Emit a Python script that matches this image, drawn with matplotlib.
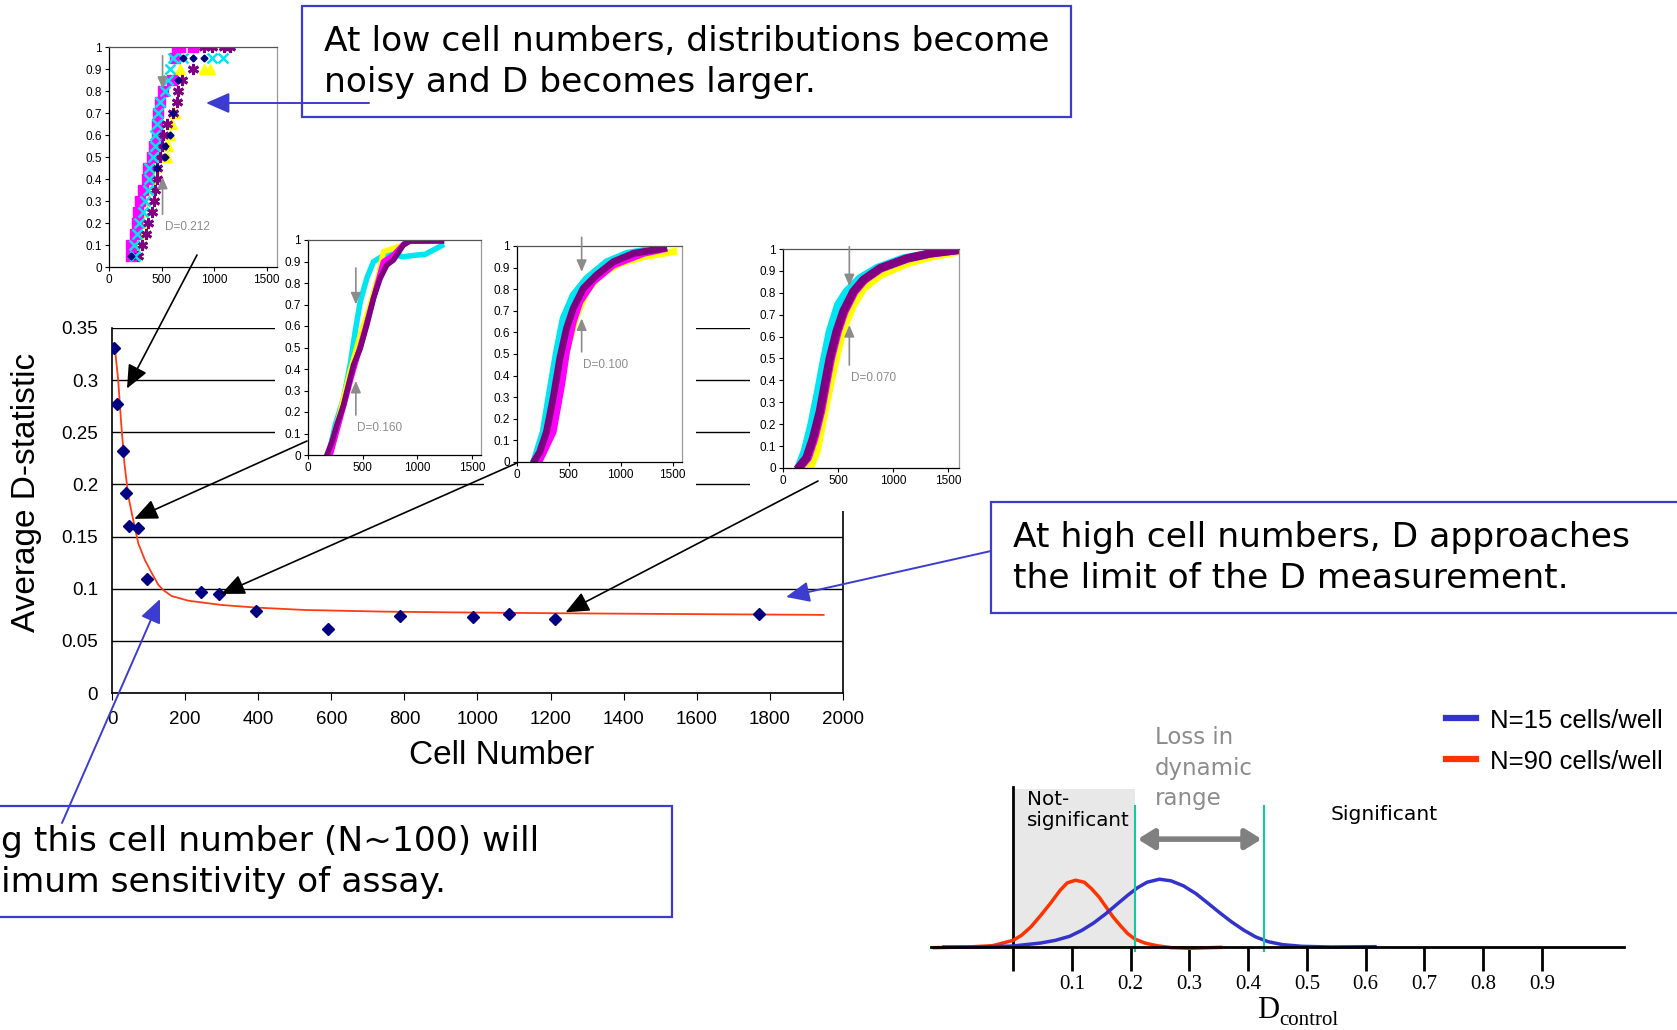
import numpy as np
import matplotlib
matplotlib.use("Agg")
import matplotlib.pyplot as plt
from matplotlib.patches import Rectangle
from matplotlib.lines import Line2D
from matplotlib.text import Annotation

W, H = 1677, 1030

# main chart: average D-statistic vs cell number
cell_number = [6, 15, 29, 38, 47, 71, 97, 243, 293, 393, 591, 788, 987, 1086, 1213, 1769]
avg_d = [0.331, 0.277, 0.232, 0.192, 0.160, 0.158, 0.109, 0.097, 0.095, 0.079,
         0.061, 0.074, 0.073, 0.0755, 0.071, 0.0755]
fit_x = [8, 17, 25, 34, 45, 58, 72, 90, 109, 127, 140, 163, 209, 300, 390, 528,
         750, 907, 1210, 1514, 1947]
fit_y = [0.330, 0.300, 0.259, 0.220, 0.188, 0.166, 0.1435, 0.1275, 0.1148, 0.1036,
         0.0988, 0.093, 0.0885, 0.0844, 0.082, 0.0796, 0.078, 0.0774, 0.0765, 0.0758,
         0.0749]
x_ticks = [0, 200, 400, 600, 800, 1000, 1200, 1400, 1600, 1800, 2000]
y_ticks = [0, 0.05, 0.1, 0.15, 0.2, 0.25, 0.3, 0.35]
y_labels = ["0", "0.05", "0.1", "0.15", "0.2", "0.25", "0.3", "0.35"]

# inset 1 (low cell number, separate markers)
i1_magenta_x = [214, 214, 246, 268, 278, 294, 325, 364, 373, 405, 428, 453, 460, 469,
                485, 517, 597, 629, 645, 676, 804]
i1_magenta_y = [0.05, 0.1, 0.15, 0.2, 0.25, 0.3, 0.35, 0.4, 0.45, 0.5, 0.55, 0.6, 0.65,
                0.7, 0.75, 0.8, 0.85, 0.95, 1.0, 1.0, 1.0]
i1_cyan_x = [246, 236, 268, 284, 325, 341, 373, 383, 383, 421, 437, 437, 453, 469, 485,
             533, 565, 581, 613, 708, 980, 1085]
i1_cyan_y = [0.05, 0.1, 0.15, 0.2, 0.25, 0.3, 0.35, 0.4, 0.45, 0.5, 0.55, 0.6, 0.65, 0.7,
             0.75, 0.8, 0.85, 0.9, 0.95, 0.95, 0.95, 0.95]
i1_yellow_x = [246, 294, 310, 319, 325, 364, 405, 437, 549, 565, 581, 597, 629, 676, 900, 964]
i1_yellow_y = [0.1, 0.15, 0.2, 0.25, 0.3, 0.35, 0.4, 0.45, 0.5, 0.55, 0.6, 0.65, 0.7,
               0.9, 0.9, 0.9]
i1_navy_x = [214, 453, 533, 533, 581, 613, 660, 708, 804, 900]
i1_navy_y = [0.05, 0.45, 0.5, 0.55, 0.6, 0.7, 0.85, 0.95, 0.95, 0.95]
i1_purple_x = [278, 310, 357, 373, 405, 428, 437, 453, 453, 485, 501, 517, 549, 613,
               645, 660, 692, 804, 900, 980, 1091, 1155]
i1_purple_y = [0.05, 0.1, 0.15, 0.2, 0.25, 0.3, 0.35, 0.4, 0.45, 0.5, 0.55, 0.6, 0.65,
               0.7, 0.75, 0.8, 0.85, 0.9, 1.0, 1.0, 1.0, 1.0]

# inset 2
i2_cyan_x = [188, 249, 325, 385, 431, 477, 537, 598, 720, 871, 993, 1069, 1220]
i2_cyan_y = [0.0, 0.14, 0.264, 0.419, 0.574, 0.713, 0.822, 0.899, 0.938, 0.922, 0.93, 0.933, 0.974]
i2_yellow_x = [188, 279, 385, 477, 568, 644, 689, 780, 871]
i2_yellow_y = [0.0, 0.17, 0.388, 0.558, 0.698, 0.837, 0.946, 0.961, 0.977]
i2_magenta_x = [203, 294, 401, 507, 598, 689, 780, 901, 1205]
i2_magenta_y = [0.0, 0.17, 0.372, 0.558, 0.729, 0.899, 0.93, 0.995, 1.0]
i2_purple_x = [173, 219, 264, 325, 370, 416, 477, 537, 598, 659, 720, 780, 871, 932, 1220]
i2_purple_y = [0.0, 0.062, 0.14, 0.233, 0.326, 0.419, 0.496, 0.605, 0.729, 0.822, 0.884,
               0.907, 0.977, 0.995, 0.995]

# inset 3
i3_cyan_x = [171, 252, 316, 381, 445, 542, 671, 864, 1058, 1381]
i3_cyan_y = [0.015, 0.139, 0.325, 0.51, 0.665, 0.773, 0.85, 0.927, 0.966, 0.992]
i3_yellow_x = [203, 316, 413, 493, 574, 671, 800, 994, 1219, 1510]
i3_yellow_y = [0.008, 0.139, 0.355, 0.541, 0.68, 0.788, 0.866, 0.92, 0.95, 0.974]
i3_magenta_x = [219, 348, 429, 477, 542, 606, 735, 929, 1219, 1413]
i3_magenta_y = [0.008, 0.139, 0.355, 0.51, 0.649, 0.742, 0.835, 0.912, 0.966, 0.986]
i3_purple_x = [171, 219, 284, 348, 413, 477, 542, 639, 768, 929, 1123, 1413]
i3_purple_y = [0.008, 0.046, 0.139, 0.294, 0.479, 0.618, 0.711, 0.804, 0.866, 0.927, 0.966, 0.989]

# inset 4
i4_cyan_x = [152, 198, 259, 320, 365, 426, 502, 578, 700, 852, 1095, 1461]
i4_cyan_y = [0.015, 0.076, 0.198, 0.35, 0.471, 0.623, 0.745, 0.805, 0.866, 0.912, 0.957, 0.988]
i4_yellow_x = [243, 304, 365, 426, 487, 548, 639, 730, 882, 1126, 1339, 1582]
i4_yellow_y = [0.0, 0.076, 0.228, 0.38, 0.517, 0.638, 0.745, 0.821, 0.881, 0.935, 0.965, 0.988]
i4_magenta_x = [160, 225, 285, 345, 390, 436, 497, 558, 649, 740, 892, 1136, 1349, 1590]
i4_purple_x = [152, 213, 274, 335, 380, 426, 487, 548, 639, 730, 882, 1126, 1339, 1582]
i4_purple_y = [0.008, 0.046, 0.137, 0.258, 0.38, 0.502, 0.623, 0.714, 0.805, 0.859, 0.912,
               0.957, 0.98, 0.995]

inset_ticks = [0, 500, 1000, 1500]
inset_yticks = [0, 0.1, 0.2, 0.3, 0.4, 0.5, 0.6, 0.7, 0.8, 0.9, 1.0]
inset_ylabels = ["0", "0.1", "0.2", "0.3", "0.4", "0.5", "0.6", "0.7", "0.8", "0.9", "1"]

# distribution sketch (bottom right)
red_x = [-0.134, -0.077, -0.035, 0.0, 0.014, 0.030, 0.047, 0.063, 0.080, 0.092, 0.106,
         0.121, 0.133, 0.146, 0.158, 0.170, 0.183, 0.195, 0.207, 0.224, 0.244, 0.269,
         0.302, 0.353]
red_h = [-0.01, 0.0, 0.02, 0.10, 0.175, 0.30, 0.475, 0.65, 0.85, 0.96, 1.0, 0.97, 0.875,
         0.75, 0.60, 0.45, 0.315, 0.20, 0.12, 0.06, 0.02, -0.01, -0.02, -0.005]
blue_x = [-0.118, -0.060, 0.0, 0.047, 0.072, 0.096, 0.117, 0.137, 0.158, 0.178, 0.195,
          0.212, 0.228, 0.249, 0.269, 0.290, 0.311, 0.331, 0.352, 0.372, 0.393, 0.413,
          0.434, 0.459, 0.492, 0.541, 0.616]
blue_h = [0.0, 0.0, 0.015, 0.06, 0.10, 0.16, 0.25, 0.36, 0.50, 0.65, 0.775, 0.89, 0.97,
          1.015, 0.99, 0.915, 0.80, 0.66, 0.51, 0.375, 0.25, 0.15, 0.08, 0.035, 0.01,
          0.0, 0.005]
d_ticks = [0, 0.1, 0.2, 0.3, 0.4, 0.5, 0.6, 0.7, 0.8, 0.9]
d_labels = ["", "0.1", "0.2", "0.3", "0.4", "0.5", "0.6", "0.7", "0.8", "0.9"]
threshold_low = 0.208
threshold_high = 0.427

MAGENTA, CYAN, YELLOW, PURPLE, NAVY = "#ff00ff", "#00e5f0", "#ffff00", "#800080", "#000080"
BOX_BLUE = "#3c3cd0"
GREY = "#8c8c8c"
COMIC = "DejaVu Sans"
ARIAL = "Liberation Sans"
BOX_FS = 24.8

fig = plt.figure(figsize=(W / 100, H / 100), dpi=100)


def box(l, t, r, b):
    return [l / W, 1 - b / H, (r - l) / W, (b - t) / H]


def fp(x, y):
    return (x, H - y)


# ---- main chart
ax = fig.add_axes(box(112, 328, 843, 693), zorder=1)
ax.plot(fit_x, fit_y, color="#ff3c14", lw=1.3, zorder=2)
ax.plot(cell_number, avg_d, ls="none", marker="D", ms=6.5, color=NAVY, zorder=3)
ax.set_xlim(0, 2000)
ax.set_ylim(0, 0.35)
ax.set_xticks(x_ticks)
ax.set_yticks(y_ticks)
ax.set_yticklabels(y_labels)
ax.grid(axis="y", color="black", lw=1)
ax.set_axisbelow(True)
ax.spines["top"].set_visible(False)
for s in ["left", "right", "bottom"]:
    ax.spines[s].set_color("black")
    ax.spines[s].set_linewidth(1.2)
ax.tick_params(axis="y", length=0, pad=10, labelsize=13.5)
ax.tick_params(axis="x", length=5, direction="out", pad=8, labelsize=13.5)
for lab in ax.get_xticklabels() + ax.get_yticklabels():
    lab.set_family(ARIAL)
fig.text(27 / W, 1 - 492 / H, "Average D-statistic", rotation=90, ha="center", va="center",
         fontsize=24, family=ARIAL)
fig.text(502 / W, 1 - 756 / H, "Cell Number", ha="center", va="center",
         fontsize=24, family=ARIAL)

# white backgrounds of the pasted insets
for l, t, r, b in [(275, 215, 486, 472), (484, 220, 696, 492), (750, 225, 985, 511)]:
    fig.add_artist(Rectangle((l / W, 1 - b / H), (r - l) / W, (b - t) / H,
                             transform=fig.transFigure, fc="white", ec="none", zorder=2))


def ecdf_inset(rect, xmax):
    a = fig.add_axes(box(*rect), zorder=3)
    a.set_xlim(0, xmax)
    a.set_ylim(0, 1)
    a.set_xticks(inset_ticks)
    a.set_yticks(inset_yticks)
    a.set_yticklabels(inset_ylabels)
    a.tick_params(labelsize=8.5, length=3, pad=2, width=0.8)
    for lab in a.get_xticklabels() + a.get_yticklabels():
        lab.set_family(ARIAL)
    a.spines["top"].set_color("#555555")
    a.spines["right"].set_color("#999999")
    for s in a.spines.values():
        s.set_linewidth(0.9)
    return a


def d_arrows(a, x, down, up, label, lx, ly):
    kw = dict(arrowstyle="-|>,head_length=0.7,head_width=0.3", color=GREY, lw=1.2,
              mutation_scale=10, shrinkA=0, shrinkB=0)
    a.annotate("", xy=(x, down[1]), xytext=(x, down[0]), arrowprops=kw, annotation_clip=False)
    a.annotate("", xy=(x, up[1]), xytext=(x, up[0]), arrowprops=kw, annotation_clip=False)
    a.text(lx, ly, label, color=GREY, fontsize=8.5, va="center", family=ARIAL)


a1 = ecdf_inset((109, 47, 277, 267), 1600)
a1.plot(i1_yellow_x, i1_yellow_y, ls="none", marker="^", ms=7.5, color=YELLOW)
a1.plot(i1_magenta_x, i1_magenta_y, ls="none", marker="s", ms=7, color=MAGENTA)
a1.plot(i1_purple_x, i1_purple_y, ls="none", marker=(6, 2, 0), ms=8, mew=2, color=PURPLE)
a1.plot(i1_cyan_x, i1_cyan_y, ls="none", marker="x", ms=7, mew=1.8, color=CYAN)
a1.plot(i1_navy_x, i1_navy_y, ls="none", marker="D", ms=3.5, color=NAVY)
d_arrows(a1, 510, (0.96, 0.81), (0.24, 0.41), "D=0.212", 533, 0.18)

a2 = ecdf_inset((308, 240, 481, 455), 1580)
a2.plot(i2_cyan_x, i2_cyan_y, color=CYAN, lw=4)
a2.plot(i2_yellow_x, i2_yellow_y, color=YELLOW, lw=4)
a2.plot(i2_magenta_x, i2_magenta_y, color=MAGENTA, lw=4)
a2.plot(i2_purple_x, i2_purple_y, color=PURPLE, lw=4)
d_arrows(a2, 437, (0.87, 0.70), (0.186, 0.345), "D=0.160", 452, 0.127)

a3 = ecdf_inset((517, 246, 682, 462), 1590)
a3.plot(i3_cyan_x, i3_cyan_y, color=CYAN, lw=5)
a3.plot(i3_yellow_x, i3_yellow_y, color=YELLOW, lw=5)
a3.plot(i3_magenta_x, i3_magenta_y, color=MAGENTA, lw=5)
a3.plot(i3_purple_x, i3_purple_y, color=PURPLE, lw=5)
d_arrows(a3, 623, (1.04, 0.88), (0.51, 0.665), "D=0.100", 639, 0.45)

a4 = ecdf_inset((783, 249, 959, 468), 1600)
a4.plot(i4_cyan_x, i4_cyan_y, color=CYAN, lw=6)
a4.plot(i4_yellow_x, i4_yellow_y, color=YELLOW, lw=6)
a4.plot(i4_magenta_x, i4_purple_y, color=MAGENTA, lw=6)
a4.plot(i4_purple_x, i4_purple_y, color=PURPLE, lw=6)
d_arrows(a4, 603, (1.01, 0.83), (0.47, 0.653), "D=0.070", 618, 0.413)

# black arrows inset -> main chart
for start, tip in [((197, 255), (41, 0.292)), ((307, 441), (61, 0.167)),
                   ((517, 463), (299, 0.095)), ((818, 481), (1241, 0.0774))]:
    fig.add_artist(Annotation("", xy=tip, xycoords=ax.transData, xytext=fp(*start),
                              textcoords="figure pixels", zorder=6,
                              arrowprops=dict(arrowstyle="-|>,head_length=0.8,head_width=0.35",
                                              color="black", lw=1.2, mutation_scale=18,
                                              shrinkA=0, shrinkB=0)))

# text boxes
for l, t, r, b in [(302, 6, 1071, 117), (991, 502, 1690, 613), (-10, 806, 672, 917)]:
    fig.add_artist(Rectangle((l / W, 1 - b / H), (r - l) / W, (b - t) / H,
                             transform=fig.transFigure, fc="white", ec=BOX_BLUE, lw=1.6,
                             zorder=4))
fig.text(324 / W, 1 - 62 / H, "At low cell numbers, distributions become\nnoisy and D becomes larger.",
         fontsize=BOX_FS, family=COMIC, va="center", linespacing=1.3, zorder=7)
fig.text(1013 / W, 1 - 558 / H, "At high cell numbers, D approaches\nthe limit of the D measurement.",
         fontsize=BOX_FS, family=COMIC, va="center", linespacing=1.3, zorder=7)
fig.text(1 / W, 1 - 862 / H, "g this cell number (N~100) will\nimum sensitivity of assay.",
         fontsize=BOX_FS, family=COMIC, va="center", linespacing=1.3, zorder=7)

# blue arrows
for start, tip in [((369, 103), (206, 103)), ((991, 551), (786, 597)), ((62, 823), (160, 599))]:
    fig.add_artist(Annotation("", xy=fp(*tip), xycoords="figure pixels", xytext=fp(*start),
                              textcoords="figure pixels", zorder=6,
                              arrowprops=dict(arrowstyle="-|>,head_length=0.8,head_width=0.35",
                                              color=BOX_BLUE, lw=1.4, mutation_scale=18,
                                              shrinkA=0, shrinkB=0)))

# ---- distribution sketch
ad = fig.add_axes(box(931, 770, 1624, 947), zorder=3)
ad.set_facecolor("none")
ad.set_xlim(-0.14, 1.04)
ad.set_ylim(0, 2.65)
ad.add_patch(Rectangle((0, 0), threshold_low, 2.365, fc="#e8e8e8", ec="none", zorder=0))
ad.plot([0, 0], [0, 2.4], color="black", lw=2, clip_on=False)
ad.plot(red_x, red_h, color="#ff3300", lw=2.5, clip_on=False)
ad.plot(blue_x, blue_h, color="#3333cc", lw=2.5, clip_on=False)
for xv in [threshold_low, threshold_high]:
    ad.plot([xv, xv], [-0.06, 2.11], color="#14c8a0", lw=1.5, clip_on=False)
ad.annotate("", xy=(threshold_low + 0.004, 1.615), xytext=(threshold_high - 0.004, 1.615),
            arrowprops=dict(arrowstyle="<|-|>,head_length=0.8,head_width=0.5", color="#808080",
                            lw=4, mutation_scale=12, shrinkA=0, shrinkB=0))
for s in ["top", "right", "left"]:
    ad.spines[s].set_visible(False)
ad.spines["bottom"].set_linewidth(2)
ad.set_yticks([])
ad.set_xticks(d_ticks)
ad.set_xticklabels(d_labels)
ad.tick_params(axis="x", direction="out", length=17, width=2, pad=3, labelsize=15)
for lab in ad.get_xticklabels():
    lab.set_family("Liberation Serif")

fig.text(1027 / W, 1 - 810 / H, "Not-\nsignificant", fontsize=14.3, family=COMIC,
         va="center", linespacing=1.15, zorder=7)
fig.text(1155 / W, 1 - 768 / H, "Loss in\ndynamic\nrange", fontsize=16.5, family=COMIC,
         color=GREY, va="center", linespacing=1.4, zorder=7)
fig.text(1331 / W, 1 - 814 / H, "Significant", fontsize=14.6, family=COMIC, va="center", zorder=7)
fig.text(1257 / W, 1 - 1018 / H, "D", fontsize=22, family="Liberation Serif", va="baseline")
fig.text(1279 / W, 1 - 1025 / H, "control", fontsize=15, family="Liberation Serif", va="baseline")

# legend
for y, c, lab in [(718, "#3333cc", "N=15 cells/well"), (759, "#ff3300", "N=90 cells/well")]:
    fig.add_artist(Line2D([1446 / W, 1476 / W], [1 - y / H, 1 - y / H], color=c, lw=4.5,
                          transform=fig.transFigure))
    fig.text(1490 / W, 1 - (y + 3) / H, lab, fontsize=18.5, family=ARIAL, va="center")

fig.savefig("out.png", dpi=100)
